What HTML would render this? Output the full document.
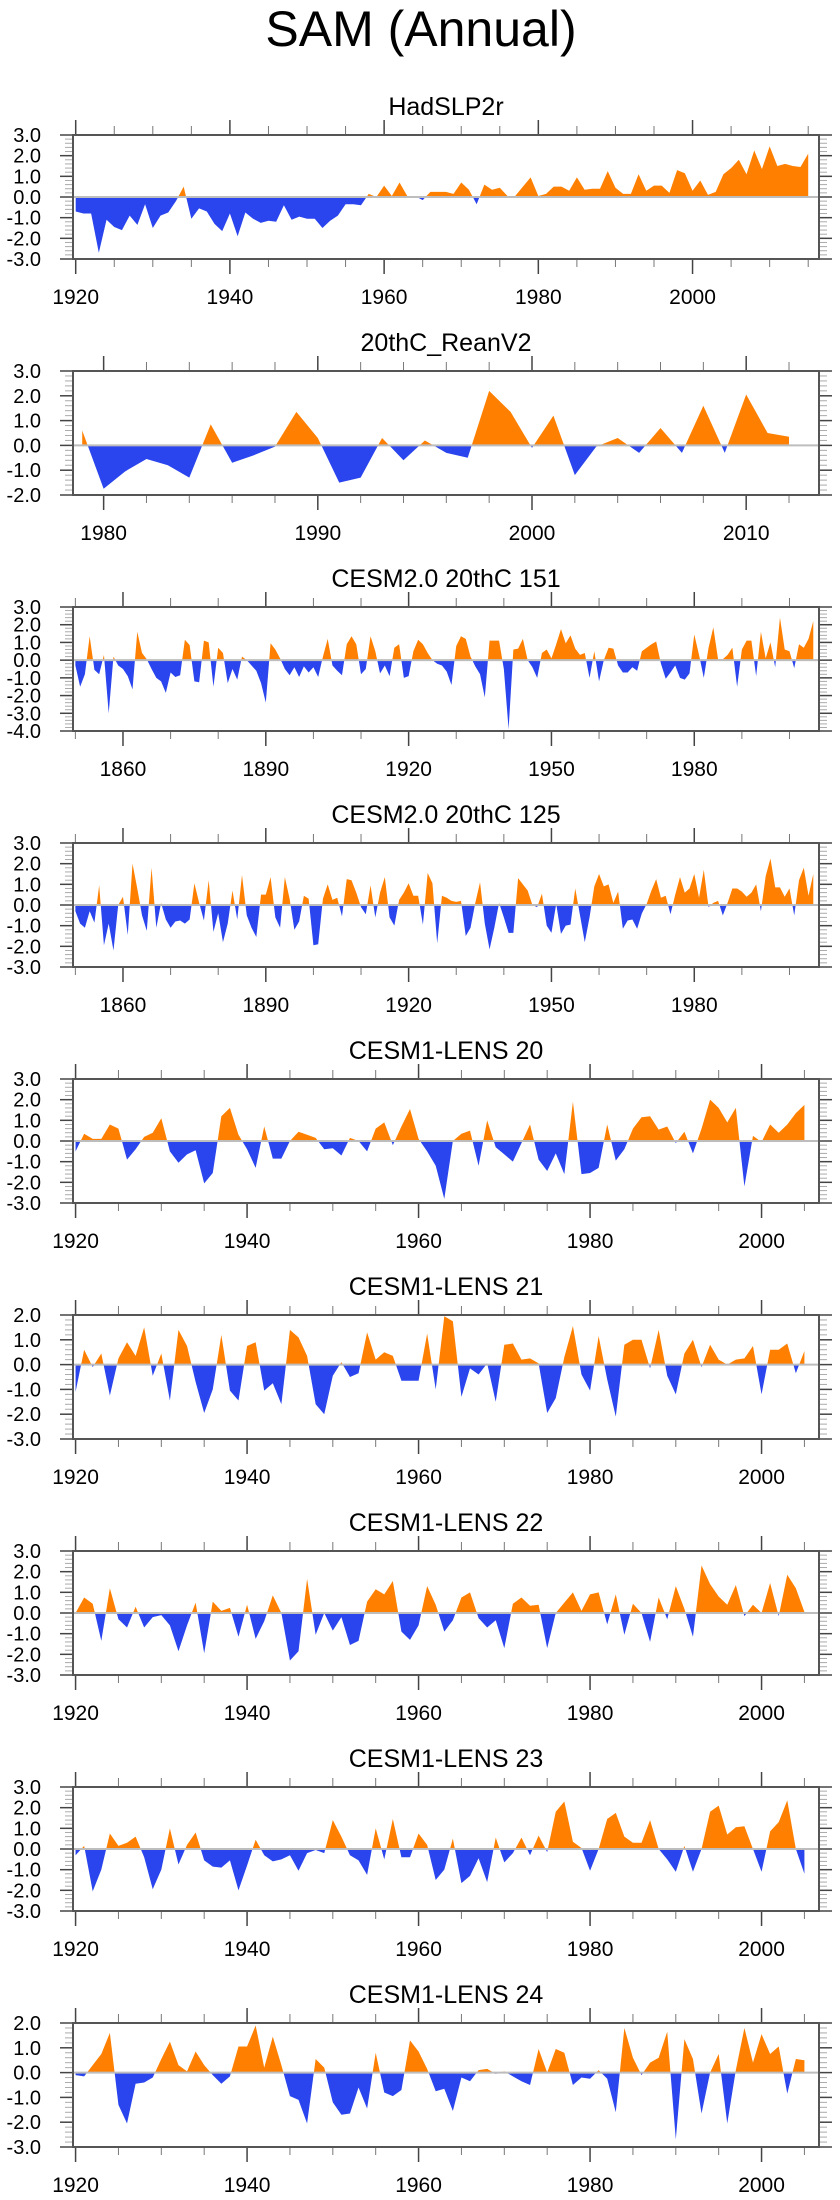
<!DOCTYPE html>
<html><head><meta charset="utf-8">
<style>
html,body{margin:0;padding:0;background:#fff;}
svg{display:block;font-family:"Liberation Sans",Arial,sans-serif;}
</style></head>
<body>
<svg id="chart" width="840" height="2200" viewBox="0 0 840 2200" xmlns="http://www.w3.org/2000/svg">
<text x="421" y="46" font-size="50" text-anchor="middle" fill="#000">SAM (Annual)</text>
</svg>
<script>
// ---- data ----
const titles = ["HadSLP2r","20thC_ReanV2","CESM2.0 20thC 151","CESM2.0 20thC 125","CESM1-LENS 20","CESM1-LENS 21","CESM1-LENS 22","CESM1-LENS 23","CESM1-LENS 24"];
const startYears = [1920,1979,1850,1850,1920,1920,1920,1920,1920];
const xDomains = [[1919.65,2016.4],[1978.57,2013.4],[1849.5,2006.2],[1849.5,2006.2],[1919.7,2006.7],[1919.7,2006.7],[1919.7,2006.7],[1919.7,2006.7],[1919.7,2006.7]];
const yRanges = [[-3,3],[-2,3],[-4,3],[-3,3],[-3,3],[-3,2],[-3,3],[-3,3],[-3,2]];
const xMajorTicks = [[1920,1940,1960,1980,2000],[1980,1990,2000,2010],[1860,1890,1920,1950,1980],[1860,1890,1920,1950,1980],[1920,1940,1960,1980,2000],[1920,1940,1960,1980,2000],[1920,1940,1960,1980,2000],[1920,1940,1960,1980,2000],[1920,1940,1960,1980,2000]];
const xMinorTicks = [[1920,2015,5],[1980,2012,2],[1850,2000,10],[1850,2000,10],[1920,2005,5],[1920,2005,5],[1920,2005,5],[1920,2005,5],[1920,2005,5]];

const hadslp2r = [-0.7,-0.8,-0.8,-2.7,-1.1,-1.45,-1.6,-0.9,-1.35,-0.35,-1.5,-0.9,-0.75,-0.2,0.5,-1.05,-0.55,-0.7,-1.3,-1.65,-0.8,-1.9,-0.75,-1.05,-1.25,-1.15,-1.2,-0.4,-1.1,-0.95,-1.05,-1.05,-1.5,-1.15,-0.9,-0.35,-0.35,-0.4,0.15,0.0,0.55,0.05,0.7,0.05,0.05,-0.15,0.25,0.25,0.25,0.15,0.7,0.35,-0.35,0.6,0.35,0.45,0.05,0.05,0.5,0.95,0.05,0.15,0.5,0.5,0.3,0.95,0.35,0.4,0.4,1.25,0.45,0.15,0.15,1.1,0.3,0.55,0.55,0.2,1.3,1.15,0.3,0.8,0.1,0.25,1.1,1.4,1.8,1.1,2.25,1.35,2.45,1.5,1.6,1.5,1.45,2.1];
const reanV2 = [0.6,-1.75,-1.05,-0.55,-0.8,-1.3,0.85,-0.7,-0.4,-0.05,1.35,0.3,-1.5,-1.3,0.3,-0.6,0.2,-0.3,-0.5,2.2,1.35,-0.1,1.2,-1.2,-0.05,0.3,-0.3,0.7,-0.3,1.6,-0.3,2.05,0.5,0.35];
const cesm2_151 = [-0.3,-1.5,-0.8,1.35,-0.55,-0.8,0.3,-3.0,0.2,-0.3,-0.5,-0.9,-1.65,1.6,0.4,0.05,-0.5,-1.0,-1.2,-1.85,-0.7,-0.95,-0.85,1.15,0.85,-1.2,-1.25,1.1,1.0,-1.5,0.7,0.4,-1.3,-0.5,-1.1,0.2,0.0,-0.3,-0.6,-1.3,-2.4,0.95,0.6,0.1,-0.5,-0.85,-0.4,-0.95,-0.35,-0.7,-0.4,-0.95,0.2,1.2,-0.3,-0.6,-0.85,0.9,1.35,0.9,-0.8,-0.5,1.35,0.5,-0.75,-0.3,-0.9,0.7,0.9,-1.0,-0.9,0.5,1.15,0.9,0.4,0.0,-0.2,-0.3,-0.65,-1.4,0.8,1.35,1.2,0.2,-0.35,-0.8,-2.1,1.1,1.1,1.1,-0.5,-3.9,0.6,0.65,1.2,0.0,-0.4,-1.0,0.4,0.6,0.1,0.9,1.75,0.95,1.4,0.65,0.3,0.4,-1.0,0.5,-1.2,0.0,0.7,0.65,-0.3,-0.7,-0.7,-0.4,-0.6,0.5,0.7,0.9,1.05,-0.2,-1.05,-0.7,-0.3,-1.0,-1.1,-0.75,1.45,0.3,-1.0,0.7,1.85,0.05,0.05,0.3,0.7,-1.5,0.6,1.1,1.1,-0.9,1.6,0.1,1.0,-0.4,2.4,0.6,0.5,-0.45,0.9,0.7,1.2,2.2];
const cesm2_125 = [-0.3,-0.9,-1.1,-0.3,-0.85,0.95,-1.95,-0.9,-2.2,0.0,0.4,-1.45,2.0,0.8,-0.5,-1.25,1.8,-1.1,0.1,-0.7,-1.1,-0.8,-0.75,-0.9,-0.7,1.05,0.1,-0.75,1.2,-1.3,-0.4,-1.8,-0.9,0.7,-0.7,1.45,-0.5,-1.1,-1.55,0.5,0.5,1.35,-0.6,-1.1,1.35,0.3,-1.2,-0.8,0.45,0.3,-1.95,-1.9,0.3,1.0,0.25,0.35,-0.55,1.25,1.2,0.6,-0.1,-0.45,0.95,-0.6,0.6,1.35,-0.6,-1.0,0.25,0.6,1.05,0.45,0.45,-0.95,1.55,1.05,-1.85,0.45,0.35,0.2,0.15,0.2,-1.5,-1.1,0.1,1.1,-0.9,-2.15,-1.1,0.1,-0.6,-1.35,-1.35,1.3,1.0,0.7,0.0,-0.1,0.55,-1.0,-1.35,0.05,-1.4,-1.0,-0.95,0.8,-0.5,-1.8,-0.6,0.9,1.5,0.9,1.0,0.1,0.65,-1.15,-0.75,-0.7,-1.15,-0.4,0.05,0.7,1.25,0.35,0.45,-0.45,0.5,1.35,0.6,0.8,1.5,0.35,1.7,-0.1,0.1,0.2,-0.5,0.1,0.8,0.8,0.65,0.4,0.6,1.0,-0.3,1.4,2.25,0.85,0.85,0.4,0.8,-0.5,1.2,1.8,0.45,1.5];
const lens20 = [-0.5,0.35,0.1,0.1,0.8,0.6,-0.9,-0.4,0.2,0.4,1.1,-0.5,-1.05,-0.65,-0.45,-2.05,-1.55,1.2,1.6,0.3,-0.4,-1.3,0.7,-0.85,-0.85,0.0,0.45,0.3,0.15,-0.4,-0.35,-0.7,0.15,0.0,-0.5,0.6,0.9,-0.2,0.7,1.55,0.1,-0.5,-1.2,-2.8,0.0,0.35,0.5,-1.2,1.0,-0.3,-0.65,-1.0,-0.1,0.8,-0.9,-1.45,-0.6,-1.6,1.9,-1.6,-1.55,-1.3,0.8,-0.95,-0.4,0.6,1.15,1.2,0.55,0.7,-0.1,0.45,-0.6,0.6,2.0,1.6,0.9,1.6,-2.2,0.25,-0.05,0.8,0.4,0.8,1.35,1.75];
const lens21 = [-1.1,0.6,-0.1,0.45,-1.25,0.25,0.9,0.35,1.5,-0.45,0.45,-1.45,1.4,0.75,-0.7,-1.95,-1.0,1.2,-1.05,-1.45,0.75,0.9,-1.05,-0.75,-1.6,1.4,1.1,0.35,-1.6,-2.0,-0.45,0.1,-0.5,-0.35,1.3,0.2,0.5,0.35,-0.65,-0.65,-0.65,1.25,-1.0,1.95,1.75,-1.3,-0.15,-0.4,0.05,-1.5,0.8,0.85,0.2,0.25,0.05,-1.95,-1.35,0.3,1.55,-0.4,-1.05,1.15,-0.6,-2.1,0.8,1.0,1.0,-0.15,1.4,-0.45,-1.2,0.45,1.0,-0.1,0.8,0.2,0.0,0.2,0.25,0.75,-1.2,0.6,0.6,0.85,-0.35,0.55];
const lens22 = [0.0,0.75,0.45,-1.35,1.2,-0.3,-0.7,0.3,-0.7,-0.2,-0.1,-0.6,-1.85,-0.6,0.5,-1.95,0.55,0.1,0.25,-1.15,0.4,-1.25,-0.4,0.85,0.0,-2.3,-1.85,1.65,-1.05,0.0,-0.85,-0.2,-1.55,-1.35,0.55,1.15,0.9,1.55,-0.9,-1.3,-0.6,1.3,0.4,-0.9,-0.35,0.75,1.0,-0.25,-0.7,-0.35,-1.7,0.45,0.75,0.35,0.4,-1.7,0.0,0.5,1.0,0.1,0.9,1.0,-0.55,0.9,-1.05,0.45,0.0,-1.4,0.75,-0.3,1.3,0.2,-1.15,2.3,1.4,0.8,0.4,1.35,-0.15,0.4,0.0,1.45,-0.15,1.85,1.2,0.05];
const lens23 = [-0.3,0.15,-2.05,-1.0,0.75,0.15,0.3,0.6,-0.4,-1.95,-1.0,1.0,-0.75,0.2,0.8,-0.55,-0.85,-0.9,-0.55,-2.0,-0.8,0.45,-0.3,-0.6,-0.5,-0.3,-1.05,-0.2,-0.05,-0.2,1.4,0.6,-0.3,-0.55,-1.25,1.0,-0.5,1.45,-0.4,-0.4,0.75,0.2,-1.5,-1.0,0.5,-1.65,-1.3,-0.45,-1.6,0.55,-0.65,-0.2,0.55,-0.3,0.65,-0.15,1.8,2.3,0.35,0.05,-1.05,0.0,1.45,1.75,0.6,0.3,0.3,1.4,0.0,-0.5,-1.1,0.15,-1.1,0.0,1.8,2.1,0.7,1.05,1.1,0.0,-1.1,0.85,1.3,2.35,0.0,-1.2];
const lens24 = [-0.1,-0.15,0.3,0.75,1.6,-1.3,-2.05,-0.45,-0.4,-0.2,0.55,1.25,0.3,0.05,0.85,0.3,-0.1,-0.45,-0.15,1.05,1.05,1.9,0.2,1.45,0.3,-0.95,-1.1,-2.05,0.55,0.2,-1.2,-1.7,-1.65,-0.6,-1.45,0.8,-0.8,-0.95,-0.7,1.3,0.85,0.15,-0.75,-0.65,-1.55,-0.2,-0.35,0.1,0.15,-0.05,0.05,-0.15,-0.35,-0.5,0.95,0.0,0.95,0.8,-0.5,-0.2,-0.25,0.1,-0.25,-1.6,1.8,0.6,-0.1,0.4,0.6,1.65,-2.7,1.35,0.55,-1.65,0.0,0.75,-2.05,0.1,1.8,0.4,1.55,0.75,1.05,-0.85,0.55,0.5];
const seriesList = [hadslp2r, reanV2, cesm2_151, cesm2_125, lens20, lens21, lens22, lens23, lens24];

// ---- drawing ----
const NS = "http://www.w3.org/2000/svg";
const svg = document.getElementById("chart");
const LEFT = 73, RIGHT = 819, TOP0 = 135, STEP = 236, BOXH = 124;
const ORANGE = "#ff8000", BLUE = "#2a44ee";

function mk(tag, attrs, parent) {
  const e = document.createElementNS(NS, tag);
  for (const k in attrs) e.setAttribute(k, attrs[k]);
  (parent || svg).appendChild(e);
  return e;
}

seriesList.forEach(function (vals, p) {
  const top = TOP0 + STEP * p, bot = top + BOXH;
  const xd = xDomains[p], yr = yRanges[p];
  const xs = function (yv) { return LEFT + (yv - xd[0]) / (xd[1] - xd[0]) * (RIGHT - LEFT); };
  const ys = function (v) { return bot - (v - yr[0]) / (yr[1] - yr[0]) * BOXH; };
  const g = mk("g", {});
  
  

  const t = mk("text", {x: 446, y: top - 20, "font-size": 25, "text-anchor": "middle", fill: "#000"}, g);
  
  
  t.textContent = titles[p];

  const y0 = ys(0);
  const cid = "c" + p;
  const defs = mk("defs", {}, g);
  const ca = mk("clipPath", {id: cid + "a"}, defs);
  mk("rect", {x: LEFT, y: top, width: RIGHT - LEFT, height: y0 - top}, ca);
  const cb = mk("clipPath", {id: cid + "b"}, defs);
  mk("rect", {x: LEFT, y: y0, width: RIGHT - LEFT, height: bot - y0}, cb);

  let d = "M" + xs(startYears[p]).toFixed(2) + "," + y0.toFixed(2);
  vals.forEach(function (v, i) { d += " L" + xs(startYears[p] + i).toFixed(2) + "," + ys(v).toFixed(2); });
  d += " L" + xs(startYears[p] + vals.length - 1).toFixed(2) + "," + y0.toFixed(2) + " Z";
  const pa = mk("path", {d: d, fill: ORANGE, "clip-path": "url(#" + cid + "a)"}, g);
  
  
  const pb = mk("path", {d: d, fill: BLUE, "clip-path": "url(#" + cid + "b)"}, g);
  
  

  const zl = mk("line", {x1: LEFT, x2: RIGHT, y1: y0, y2: y0, stroke: "#bdbdbd", "stroke-width": 2}, g);
  
  

  // minor y ticks
  for (let v = yr[0]; v <= yr[1] + 1e-6; v += 0.2) {
    const yy = ys(v);
    mk("line", {x1: LEFT - 8, x2: LEFT, y1: yy, y2: yy, stroke: "#aaa", "stroke-width": 1}, g);
    mk("line", {x1: RIGHT, x2: RIGHT + 8, y1: yy, y2: yy, stroke: "#aaa", "stroke-width": 1}, g);
  }
  // major y ticks + labels
  for (let v = yr[0]; v <= yr[1]; v++) {
    const yy = ys(v);
    mk("line", {x1: LEFT - 13, x2: LEFT, y1: yy, y2: yy, stroke: "#444", "stroke-width": 1.5}, g);
    mk("line", {x1: RIGHT, x2: RIGHT + 13, y1: yy, y2: yy, stroke: "#444", "stroke-width": 1.5}, g);
    const lt = mk("text", {x: 41, y: yy + 7, "font-size": 20, "text-anchor": "end", fill: "#000"}, g);
    
    
    lt.textContent = v.toFixed(1);
  }
  // minor x ticks
  const mt = xMinorTicks[p];
  for (let yv = mt[0]; yv <= mt[1]; yv += mt[2]) {
    const xx = xs(yv);
    mk("line", {x1: xx, x2: xx, y1: top - 9, y2: top, stroke: "#777", "stroke-width": 1}, g);
    mk("line", {x1: xx, x2: xx, y1: bot, y2: bot + 8, stroke: "#777", "stroke-width": 1}, g);
  }
  // major x ticks + labels
  xMajorTicks[p].forEach(function (yv) {
    const xx = xs(yv);
    mk("line", {x1: xx, x2: xx, y1: top - 15, y2: top, stroke: "#444", "stroke-width": 1.5}, g);
    mk("line", {x1: xx, x2: xx, y1: bot, y2: bot + 15, stroke: "#444", "stroke-width": 1.5}, g);
    const xt = mk("text", {x: xx, y: top + 169, "font-size": 21, "text-anchor": "middle", fill: "#000"}, g);
    
    
    xt.textContent = String(yv);
  });

  const box = mk("rect", {x: LEFT, y: top, width: RIGHT - LEFT, height: BOXH, fill: "none", stroke: "#555", "stroke-width": 2}, g);
  
  
});
</script>
</body></html>
